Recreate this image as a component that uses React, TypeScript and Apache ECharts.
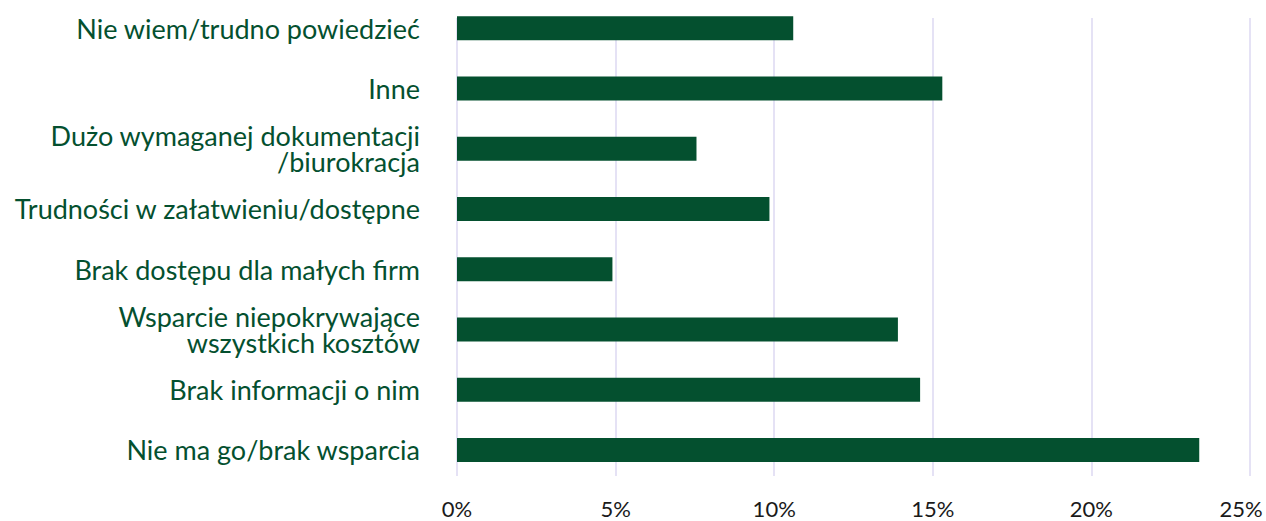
import React, { useEffect, useRef } from "react";
import * as echarts from "echarts";

const categories = [
  "Nie wiem/trudno powiedzieć",
  "Inne",
  "Dużo wymaganej dokumentacji\n/biurokracja",
  "Trudności w załatwieniu/dostępne",
  "Brak dostępu dla małych firm",
  "Wsparcie niepokrywające\nwszystkich kosztów",
  "Brak informacji o nim",
  "Nie ma go/brak wsparcia",
];
const values = [10.6, 15.3, 7.55, 9.85, 4.9, 13.9, 14.6, 23.4];
const xTicks = [0, 5, 10, 15, 20, 25];

const GREEN = "#04502f";
const FONT = "Lato, 'Noto Sans', sans-serif";
const TICK_FONT = "Lato, 'Noto Sans', sans-serif";

export default function App() {
  const ref = useRef<HTMLDivElement>(null);
  useEffect(() => {
    if (!ref.current) return;
    const chart = echarts.init(ref.current, undefined, { renderer: "svg" });
    chart.setOption({
      animation: false,
      backgroundColor: "#ffffff",
      grid: [
        { left: 457, right: 16, top: -2, bottom: 41, containLabel: false, outerBoundsMode: "none" },
        { left: 457, right: 16, top: 18, bottom: 45, containLabel: false, outerBoundsMode: "none" },
      ],
      xAxis: [
        {
          gridIndex: 0,
          type: "value",
          min: 0,
          max: xTicks[xTicks.length - 1],
          interval: 5,
          show: false,
        },
        {
          gridIndex: 1,
          type: "value",
          min: 0,
          max: xTicks[xTicks.length - 1],
          interval: 5,
          axisLine: { show: false },
          axisTick: { show: false },
          splitLine: { show: true, lineStyle: { color: "#dcd8f2", width: 1.5 } },
          axisLabel: {
            margin: 23,
            color: "#1a1a1a",
            fontSize: 22,
            lineHeight: 18,
            fontFamily: TICK_FONT,
            formatter: (v: number) => (v === 25 ? "{last|" + v + "%}" : v + "%"),
            rich: {
              last: {
                fontSize: 22,
                lineHeight: 18,
                fontFamily: TICK_FONT,
                color: "#1a1a1a",
                padding: [0, 18, 0, 0],
              },
            },
          },
        },
      ],
      yAxis: [
        {
          gridIndex: 0,
          type: "category",
          data: categories,
          inverse: true,
          axisLine: { show: false },
          axisTick: { show: false },
          splitLine: { show: false },
          axisLabel: {
            margin: 37,
            color: GREEN,
            fontSize: 27,
            lineHeight: 26,
            fontFamily: FONT,
            align: "right",
          },
        },
        {
          gridIndex: 1,
          type: "category",
          data: categories,
          show: false,
        },
      ],
      series: [
        {
          type: "bar",
          xAxisIndex: 0,
          yAxisIndex: 0,
          data: values,
          barWidth: 24,
          itemStyle: { color: GREEN },
          z: 3,
        },
      ],
    });
    return () => chart.dispose();
  }, []);
  return <div ref={ref} style={{ width: 1266, height: 521, position: "absolute", left: 0, top: 0 }} />;
}
